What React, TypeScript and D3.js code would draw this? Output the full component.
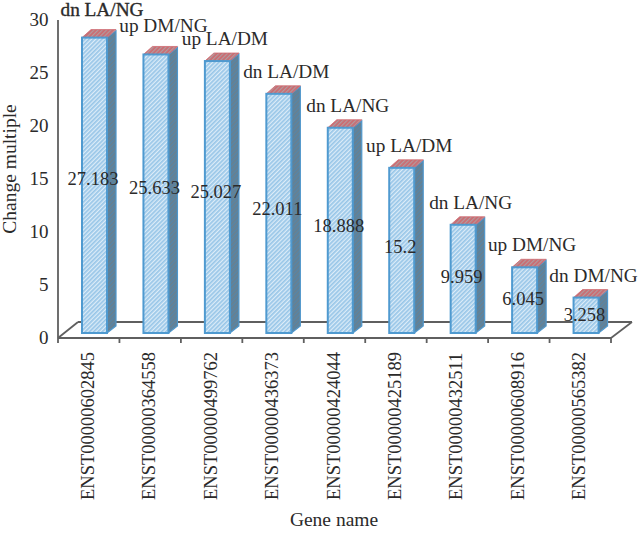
import React from "react";
import * as d3 from "d3";

const genes = ["ENST00000602845","ENST00000364558","ENST00000499762","ENST00000436373","ENST00000424044","ENST00000425189","ENST00000432511","ENST00000608916","ENST00000565382"];
const values = [27.183,25.633,25.027,22.011,18.888,15.2,9.959,6.045,3.258];
const valueLabels = ["27.183","25.633","25.027","22.011","18.888","15.2","9.959","6.045","3.258"];
const groups = ["dn LA/NG","up DM/NG","up LA/DM","dn LA/DM","dn LA/NG","up LA/DM","dn LA/NG","up DM/NG","dn DM/NG"];
const yTicks = [0,5,10,15,20,25,30];

const W = 638, H = 547;
const FONT = "'Liberation Serif', serif";
const INK = "#2b2a2a";
const AXIS = "#5f5f5f";

function Hatch({id, bg, fg, w}: {id:string;bg:string;fg:string;w:number}) {
  return (
    <pattern id={id} width={3} height={3} patternUnits="userSpaceOnUse" patternTransform="rotate(45)">
      <rect width={3} height={3} fill={bg}/>
      <rect width={w} height={3} fill={fg}/>
    </pattern>
  );
}

export default function App() {
  const axisY = d3.scaleLinear().domain([0,30]).range([338,20]);
  const barY = d3.scaleLinear().domain([0,30]).range([333,7]);
  const x = d3.scaleBand<string>().domain(genes).range([58,611]).padding(0);
  const bw = x.bandwidth();
  const barW = 25, dx = 9, dy = 8;
  const barLeft = (g:string) => (x(g) as number) + 24;

  return (
    <svg width={W} height={H} style={{position:"absolute",left:0,top:0,background:"#fff"}} fontFamily={FONT}>
      <defs>
        <Hatch id="front" bg="#dcecf8" fg="#98c6e8" w={1.7}/>
        <Hatch id="side" bg="#5585a8" fg="#68808f" w={1.6}/>
        <Hatch id="top" bg="#cc6a70" fg="#b09ca0" w={1.2}/>
      </defs>

      <g stroke={AXIS} strokeWidth={1.8} fill="none">
        <line x1={58} x2={58} y1={20} y2={axisY(0)}/>
        <line x1={58} x2={611} y1={axisY(0)} y2={axisY(0)}/>
        <line x1={58} x2={78} y1={axisY(0)} y2={322}/>
        <line x1={78} x2={632} y1={322} y2={322}/>
        <line x1={632} x2={611} y1={322} y2={axisY(0)}/>
        {genes.map((g) => (
          <line key={g} x1={(x(g) as number)+bw} x2={(x(g) as number)+bw} y1={axisY(0)} y2={343}/>
        ))}
        <line x1={58} x2={58} y1={axisY(0)} y2={343}/>
      </g>

      {yTicks.map((t) => (
        <text key={t} x={48.5} y={axisY(t)} dy={5.5} textAnchor="end" fontSize={19} fill={INK}>{t}</text>
      ))}

      {genes.map((g,i) => {
        const l = barLeft(g), top = barY(values[i]), base = barY(0);
        const c = l + barW/2;
        return (
          <g key={g}>
            <path d={`M${l+barW},${top}L${l+barW+dx},${top-dy+1}V${base-7}L${l+barW},${base}Z`} fill="url(#side)" stroke="#4f97cc" strokeWidth={1.2}/>
            <path d={`M${l},${top}L${l+dx},${top-dy}H${l+barW+dx}L${l+barW},${top}Z`} fill="url(#top)" stroke="#d0686e" strokeWidth={0.8}/>
            <rect x={l} y={top} width={barW} height={base-top} fill="url(#front)" stroke="#4f9ad0" strokeWidth={2}/>
            <text x={c-1.5} y={barY(values[i]*0.52)} dy={6} textAnchor="middle" fontSize={18.5} fill={INK}>{valueLabels[i]}</text>
            <text x={c+7.5} y={top-(i<2?28:22)} dy={6} textAnchor="middle" fontSize={19.3} fill={INK} stroke={i===0?INK:"none"} strokeWidth={0.35}>{groups[i]}</text>
            <text transform={`translate(${(x(g) as number)+bw/2+5},${500}) rotate(-90)`} fontSize={18.5} fill={INK}>{g}</text>
          </g>
        );
      })}

      <text transform="translate(16,169) rotate(-90)" textAnchor="middle" fontSize={19.5} fill={INK}>Change multiple</text>
      <text x={334} y={526} textAnchor="middle" fontSize={19.5} fill={INK}>Gene name</text>
    </svg>
  );
}
